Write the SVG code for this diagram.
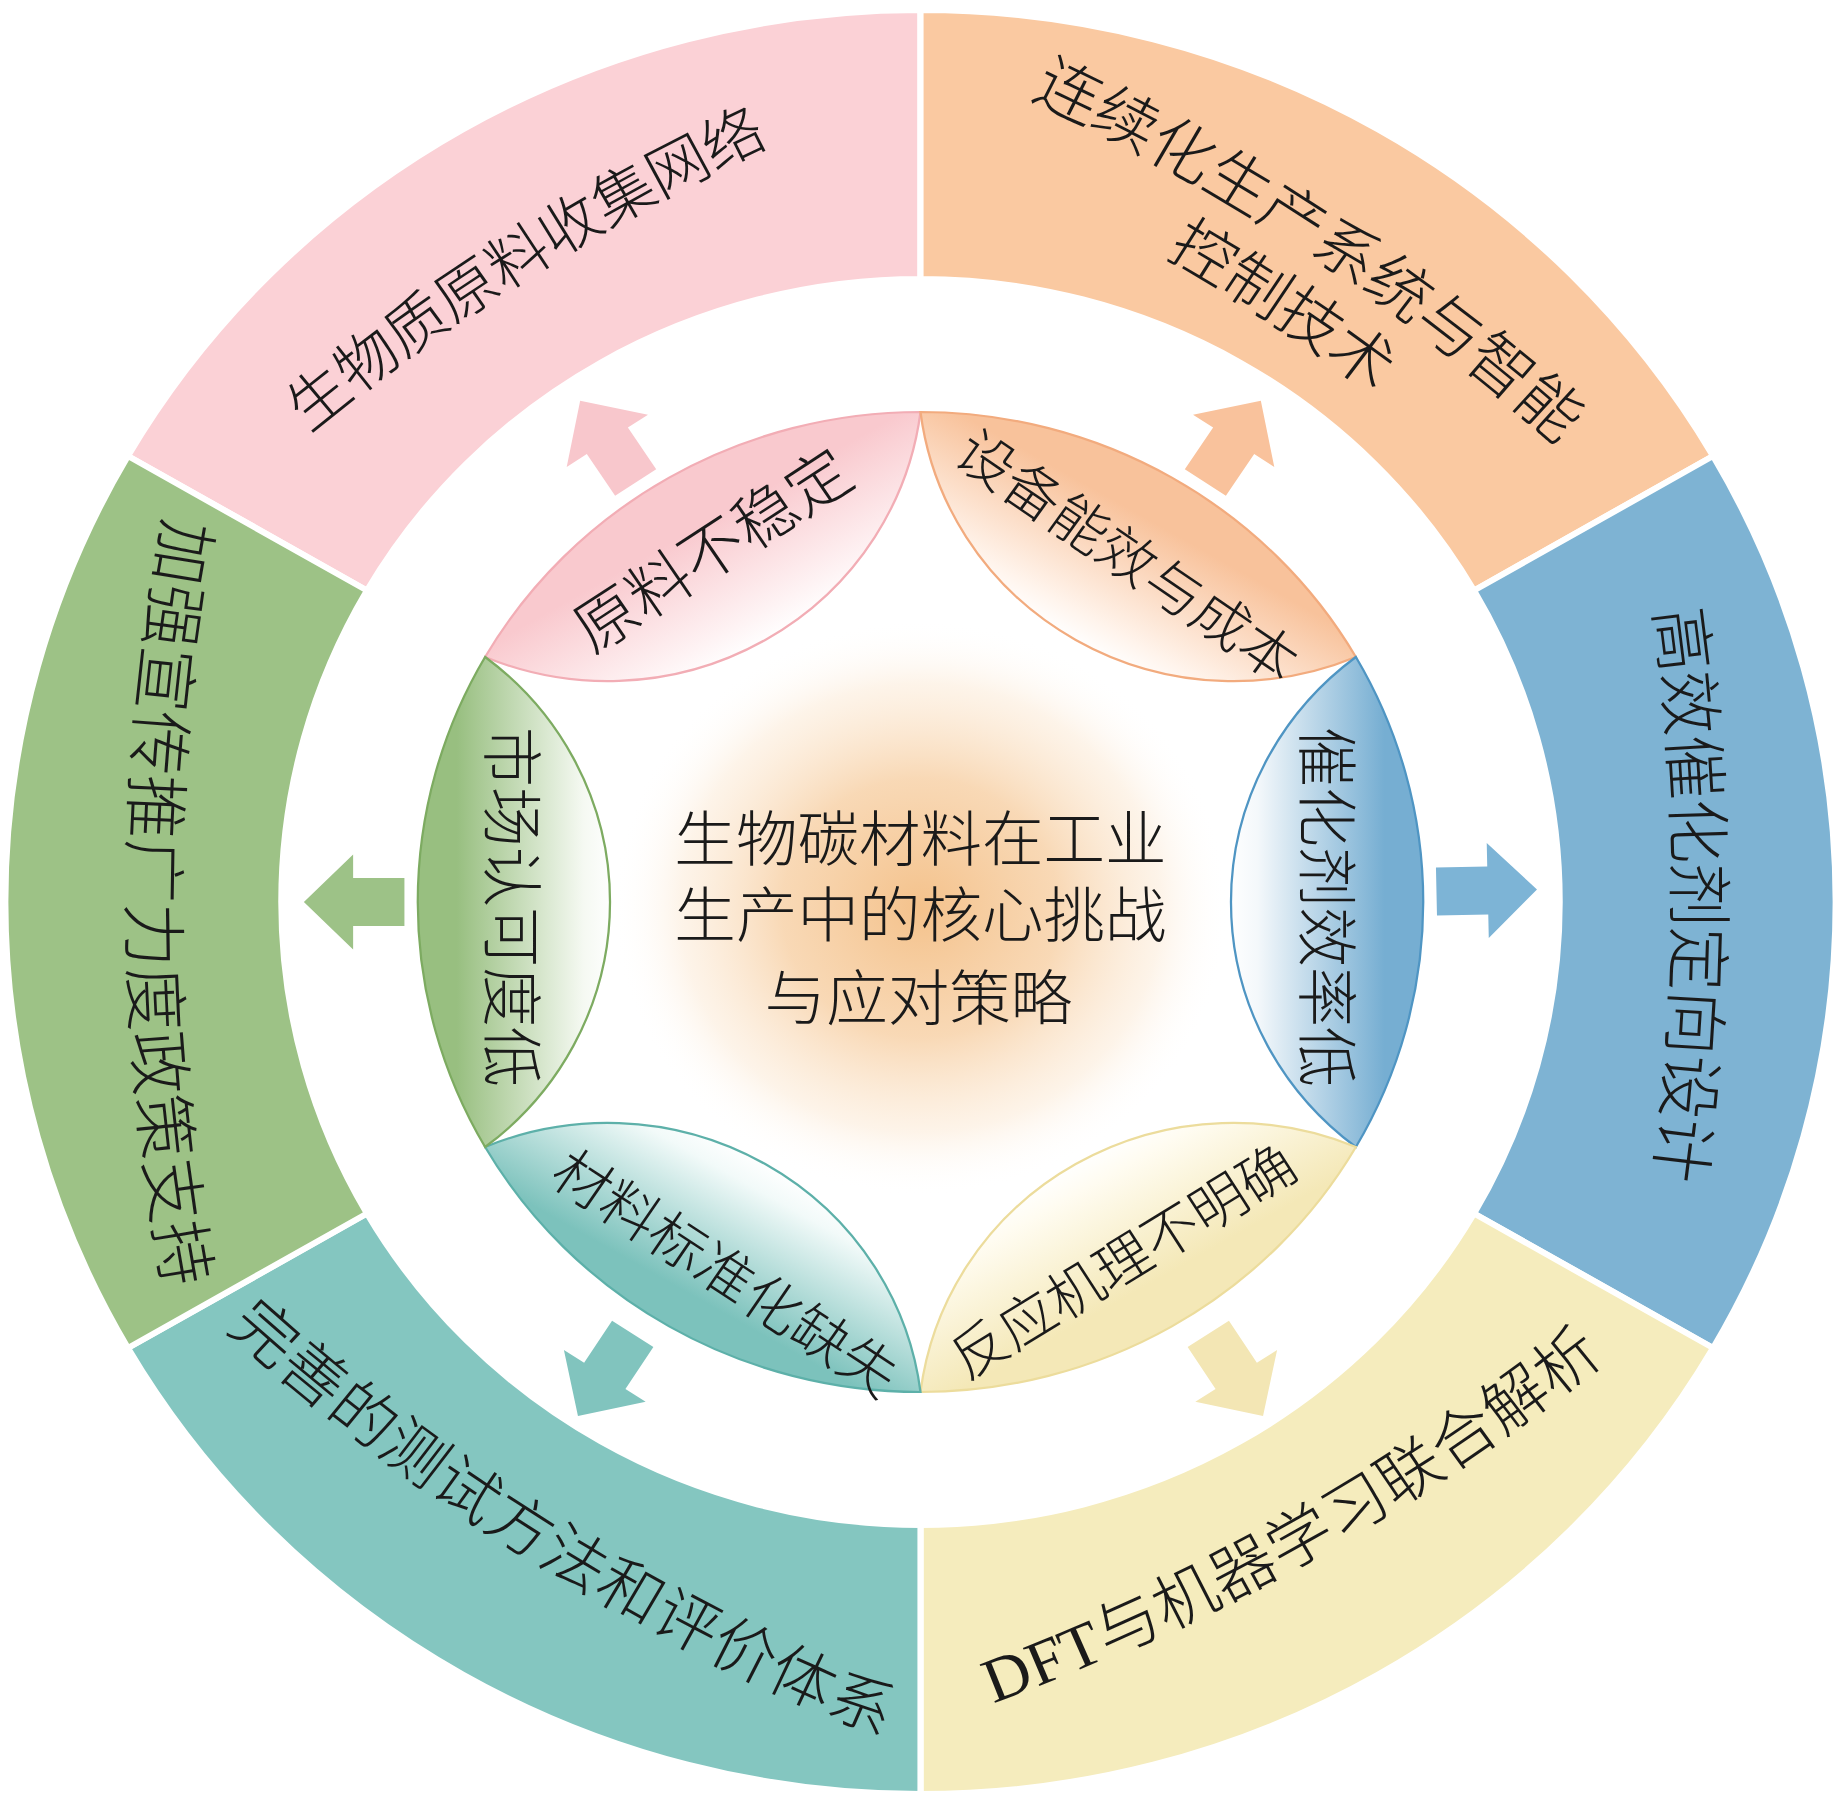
<svg xmlns="http://www.w3.org/2000/svg" width="1843" height="1805" viewBox="0 0 1843 1805">
<style>
.seg{stroke:#ffffff;stroke-width:6;stroke-linejoin:miter}
.t{font-family:"Liberation Serif","Noto Sans CJK SC",serif;fill:#1a1a1a;text-anchor:middle;dominant-baseline:central;font-weight:300}
.petal{stroke-width:2.2}
</style>
<defs>
<radialGradient id="glow" cx="0.5" cy="0.5" r="0.5">
<stop offset="0" stop-color="#f2b777" stop-opacity="0.85"/>
<stop offset="0.45" stop-color="#f5c48e" stop-opacity="0.65"/>
<stop offset="0.78" stop-color="#fadfc0" stop-opacity="0.35"/>
<stop offset="1" stop-color="#ffffff" stop-opacity="0"/>
</radialGradient>
<linearGradient id="gPink" gradientUnits="userSpaceOnUse" x1="300" y1="0" x2="490" y2="0"><stop offset="0" stop-color="#ffffff"/><stop offset="0.15" stop-color="#fef3f4"/><stop offset="0.7" stop-color="#f9c9ce"/></linearGradient>
<linearGradient id="gOrange" gradientUnits="userSpaceOnUse" x1="300" y1="0" x2="490" y2="0"><stop offset="0" stop-color="#ffffff"/><stop offset="0.15" stop-color="#fff4ec"/><stop offset="0.75" stop-color="#f8c29b"/></linearGradient>
<linearGradient id="gBlue" gradientUnits="userSpaceOnUse" x1="300" y1="0" x2="490" y2="0"><stop offset="0" stop-color="#ffffff"/><stop offset="0.15" stop-color="#f4f8fb"/><stop offset="0.8" stop-color="#76aed2"/></linearGradient>
<linearGradient id="gYellow" gradientUnits="userSpaceOnUse" x1="300" y1="0" x2="490" y2="0"><stop offset="0" stop-color="#ffffff"/><stop offset="0.15" stop-color="#fffcf1"/><stop offset="0.75" stop-color="#f4e8b7"/></linearGradient>
<linearGradient id="gTeal" gradientUnits="userSpaceOnUse" x1="300" y1="0" x2="490" y2="0"><stop offset="0" stop-color="#ffffff"/><stop offset="0.15" stop-color="#f2faf9"/><stop offset="0.8" stop-color="#7cc2bc"/></linearGradient>
<linearGradient id="gGreen" gradientUnits="userSpaceOnUse" x1="300" y1="0" x2="490" y2="0"><stop offset="0" stop-color="#ffffff"/><stop offset="0.15" stop-color="#f5f9f2"/><stop offset="0.8" stop-color="#98bf80"/></linearGradient>
<path id="petalShape" d="M424.35,-245 A490,490 0 0 1 424.35,245 A307.4,307.4 0 0 1 424.35,-245 Z"/>
<polygon id="arrowShape" points="503,-24 553,-24 553,-47.5 601,0 553,47.5 553,24 503,24"/>
<path id="arcUp" d="M-514.7,64.05 A2100,2100 0 0 1 514.7,64.05"/>
<path id="arcDown" d="M-514.7,-64.05 A2100,2100 0 0 0 514.7,-64.05"/>
</defs>
<rect x="0" y="0" width="1843" height="1805" fill="#ffffff"/>
<g transform="translate(920.5 902) scale(1.026 1)">
<ellipse id="center-glow" cx="0" cy="6" rx="300" ry="288" fill="url(#glow)"/>

<g id="ring-pink">
<path class="seg" fill="#fbd1d6" d="M0,-892 A892,892 0 0 0 -772.5,-446 L-539.5,-311.5 A623,623 0 0 1 0,-623 Z"/>
<text class="t" font-size="60" transform="translate(-392 -645) rotate(-32.7)"><textPath href="#arcUp" startOffset="50%">生物质原料收集网络</textPath></text>
</g>
<g id="ring-orange">
<path class="seg" fill="#fac9a1" d="M772.5,-446 A892,892 0 0 0 0,-892 L0,-623 A623,623 0 0 1 539.5,-311.5 Z"/>
<text class="t" font-size="63" transform="translate(389.3 -667.8) rotate(34)"><textPath href="#arcUp" startOffset="50%">连续化生产系统与智能</textPath></text>
<text class="t" font-size="62" transform="translate(354 -598) rotate(34)"><textPath href="#arcUp" startOffset="50%">控制技术</textPath></text>
</g>
<g id="ring-blue">
<path class="seg" fill="#7eb3d3" d="M772.5,446 A892,892 0 0 0 772.5,-446 L539.5,-311.5 A623,623 0 0 1 539.5,311.5 Z"/>
<text class="t" font-size="64" transform="translate(757 -7) rotate(90)"><textPath href="#arcUp" startOffset="50%">高效催化剂定向设计</textPath></text>
</g>
<g id="ring-yellow">
<path class="seg" fill="#f5ecbd" d="M0,892 A892,892 0 0 0 772.5,446 L539.5,311.5 A623,623 0 0 1 0,623 Z"/>
<text class="t" font-size="63" transform="translate(372.7 634.5) rotate(-30)"><textPath href="#arcDown" startOffset="50%">DFT与机器学习联合解析</textPath></text>
</g>
<g id="ring-teal">
<path class="seg" fill="#84c6c0" d="M-772.5,446 A892,892 0 0 0 0,892 L0,623 A623,623 0 0 1 -539.5,311.5 Z"/>
<text class="t" font-size="63" transform="translate(-363.4 641) rotate(32.5)"><textPath href="#arcDown" startOffset="50%">完善的测试方法和评价体系</textPath></text>
</g>
<g id="ring-green">
<path class="seg" fill="#9dc286" d="M-772.5,-446 A892,892 0 0 0 -772.5,446 L-539.5,311.5 A623,623 0 0 1 -539.5,-311.5 Z"/>
<text class="t" font-size="64" transform="translate(-749.5 1) rotate(90)"><textPath href="#arcDown" startOffset="50%">加强宣传推广力度政策支持</textPath></text>
</g>

<g id="connectors">
<use href="#arrowShape" fill="#f8c7cc" transform="rotate(-123.5)"/>
<use href="#arrowShape" fill="#f9c29c" transform="rotate(-56.5)"/>
<use href="#arrowShape" fill="#7db4d6" transform="rotate(-1.2)"/>
<use href="#arrowShape" fill="#f3e6b4" transform="rotate(57) translate(12 0)"/>
<use href="#arrowShape" fill="#81c4be" transform="rotate(123) translate(12 0)"/>
<use href="#arrowShape" fill="#9dc287" transform="rotate(180)"/>
</g>

<g id="petal-pink">
<use href="#petalShape" class="petal" fill="url(#gPink)" stroke="#f2adb5" transform="rotate(-120)"/>
<text class="t" font-size="62" transform="translate(-202 -350.5) rotate(-33.7)">原料不稳定</text>
</g>
<g id="petal-orange">
<use href="#petalShape" class="petal" fill="url(#gOrange)" stroke="#f2ab7e" transform="rotate(-60)"/>
<text class="t" font-size="56" transform="translate(201 -345) rotate(35)">设备能效与成本</text>
</g>
<g id="petal-blue">
<use href="#petalShape" class="petal" fill="url(#gBlue)" stroke="#4f95c3" transform="rotate(0)"/>
<text class="t" font-size="60" transform="translate(394 5) rotate(90)">催化剂效率低</text>
</g>
<g id="petal-yellow">
<use href="#petalShape" class="petal" fill="url(#gYellow)" stroke="#ecdc9c" transform="rotate(60)"/>
<text class="t" font-size="55" transform="translate(198 360) rotate(-32.2)">反应机理不明确</text>
</g>
<g id="petal-teal">
<use href="#petalShape" class="petal" fill="url(#gTeal)" stroke="#5db0a9" transform="rotate(120)"/>
<text class="t" font-size="56" transform="translate(-190.5 372) rotate(33.9)">材料标准化缺失</text>
</g>
<g id="petal-green">
<use href="#petalShape" class="petal" fill="url(#gGreen)" stroke="#7dab61" transform="rotate(180)"/>
<text class="t" font-size="60" transform="translate(-400 5) rotate(90)">市场认可度低</text>
</g>

<g id="center-title">
<text class="t" font-size="60" x="0" y="-61">生物碳材料在工业</text>
<text class="t" font-size="60" x="0" y="15">生产中的核心挑战</text>
<text class="t" font-size="60" x="-2" y="98">与应对策略</text>
</g>
</g>
</svg>
